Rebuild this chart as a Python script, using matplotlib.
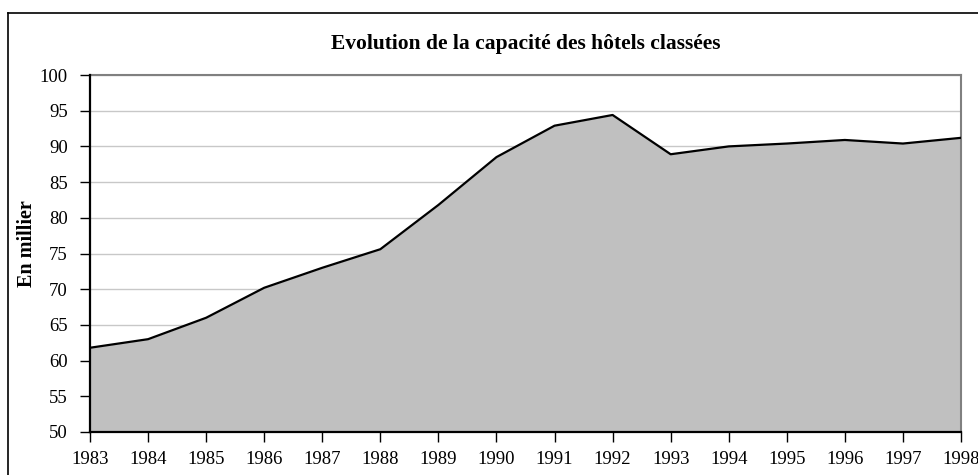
import matplotlib
matplotlib.use("Agg")
import matplotlib.pyplot as plt
from matplotlib.lines import Line2D

years = [1983, 1984, 1985, 1986, 1987, 1988, 1989, 1990, 1991, 1992,
         1993, 1994, 1995, 1996, 1997, 1998]
capacity = [61.8, 63.0, 66.0, 70.2, 73.0, 75.6, 81.8, 88.5, 92.9, 94.4,
            88.9, 90.0, 90.4, 90.9, 90.4, 91.2]
yticks = [50, 55, 60, 65, 70, 75, 80, 85, 90, 95, 100]
title = "Evolution de la capacité des hôtels classées"
ylabel = "En millier"

plt.rcParams['font.family'] = ['Liberation Serif', 'DejaVu Serif']

W, H = 979, 475
fig = plt.figure(figsize=(W / 100, H / 100), dpi=100)
left, right, top, bottom = 90, 961, 75, 432
ax = fig.add_axes([left / W, 1 - bottom / H, (right - left) / W, (bottom - top) / H])

ax.fill_between(years, capacity, 50, color='#C0C0C0', zorder=2, linewidth=0)
ax.plot(years, capacity, color='black', linewidth=1.6, zorder=3)

ax.set_xlim(years[0], years[-1])
ax.set_ylim(50, 100)
ax.set_yticks(yticks)
ax.set_xticks(years)
ax.set_xticklabels([str(y) for y in years])
ax.grid(axis='y', color='#C8C8C8', linewidth=1.0, zorder=1)
ax.grid(axis='x', visible=False)

for s in ['top', 'right']:
    ax.spines[s].set_color('#808080')
    ax.spines[s].set_linewidth(1.5)
for s in ['left', 'bottom']:
    ax.spines[s].set_color('black')
    ax.spines[s].set_linewidth(1.6)
    ax.spines[s].set_zorder(4)

ax.tick_params(axis='both', direction='out', length=7, width=1, color='black',
               labelsize=13.5)
ax.tick_params(axis='x', pad=7)
ax.tick_params(axis='y', pad=9)

fig.text((left + right) / 2 / W, 1 - 44 / H, title, ha='center', va='center',
         fontsize=15.5, fontweight='bold')
fig.text(27 / W, 1 - 244 / H, ylabel, rotation=90, ha='center', va='center',
         fontsize=14.5, fontweight='bold')

# outer frame (chart area border, cropped on right and bottom)
fig.add_artist(Line2D([8 / W, 8 / W], [0, 1 - 13 / H], transform=fig.transFigure,
                      color='black', linewidth=1.2))
fig.add_artist(Line2D([8 / W, 1], [1 - 13 / H, 1 - 13 / H], transform=fig.transFigure,
                      color='black', linewidth=1.2))

fig.savefig("out.png", dpi=100)
